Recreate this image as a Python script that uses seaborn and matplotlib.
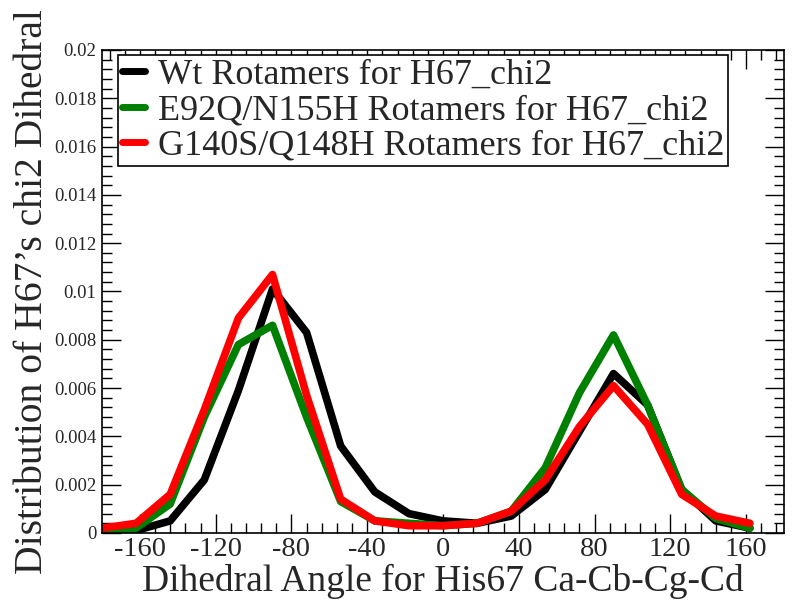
import pandas as pd
import numpy as np
import matplotlib.pyplot as plt
import seaborn as sns
from matplotlib.ticker import MultipleLocator, FuncFormatter

angles = [-180, -162, -144, -126, -108, -90, -72, -54, -36, -18,
          0, 18, 36, 54, 72, 90, 108, 126, 144, 162]

wt = [0.0000, 0.0001, 0.0005, 0.0022, 0.0059, 0.0101, 0.0083, 0.0036, 0.0017, 0.0008,
      0.0005, 0.0004, 0.0007, 0.0018, 0.0042, 0.0066, 0.0053, 0.0018, 0.0005, 0.0002]
e92q = [0.0000, 0.0002, 0.0012, 0.0048, 0.0078, 0.0086, 0.0048, 0.0013, 0.0005, 0.0004,
        0.0003, 0.0004, 0.0009, 0.0027, 0.0058, 0.0082, 0.0053, 0.0018, 0.0006, 0.0002]
g140s = [0.0002, 0.0004, 0.0016, 0.0051, 0.0089, 0.0107, 0.0057, 0.0014, 0.0005, 0.0003,
         0.0003, 0.0004, 0.0009, 0.0022, 0.0044, 0.0061, 0.0045, 0.0016, 0.0007, 0.0004]

labels = ["Wt Rotamers for H67_chi2",
          "E92Q/N155H Rotamers for H67_chi2",
          "G140S/Q148H Rotamers for H67_chi2"]
colors = ["black", "#008000", "#ff0000"]

df = pd.concat([
    pd.DataFrame({"angle": angles, "dist": vals, "set": lab})
    for vals, lab in zip([wt, e92q, g140s], labels)
])

sns.set_style("ticks")
plt.rcParams['font.family'] = ['Liberation Serif', 'DejaVu Serif']
plt.rcParams['axes.unicode_minus'] = False

fig = plt.figure(figsize=(8, 6.14), dpi=100)
ax = fig.add_axes([0.1275, 0.132, 0.8525, 0.7866])

sns.lineplot(data=df, x="angle", y="dist", hue="set", palette=colors,
             linewidth=5.5, ax=ax, legend=True)

ax.set_xlim(-180, 180)
ax.set_ylim(0, 0.02)
ax.xaxis.set_minor_locator(MultipleLocator(8))
ax.yaxis.set_major_locator(MultipleLocator(0.002))
ax.yaxis.set_minor_locator(MultipleLocator(0.0004))
ax.set_xticks(np.arange(-160, 161, 40))
ax.yaxis.set_major_formatter(FuncFormatter(lambda v, p: "%g" % round(v, 4)))

ax.tick_params(which="both", direction="in", top=True, right=True, color="black")
ax.tick_params(which="major", length=14, width=1)
ax.tick_params(which="minor", length=7, width=1)
ax.tick_params(axis="x", labelsize=20.5, pad=3)
ax.tick_params(axis="y", labelsize=13.5, pad=4)
for s in ax.spines.values():
    s.set_color("black")
    s.set_linewidth(1.2)

ax.set_xlabel("Dihedral Angle for His67 Ca-Cb-Cg-Cd", fontsize=27, labelpad=1)
ax.set_ylabel("Distribution of H67\u2019s chi2 Dihedral", fontsize=28.5, labelpad=2)

leg = ax.legend(loc="upper left", bbox_to_anchor=(0.024, 0.99), fontsize=26,
                handlelength=0.65, handletextpad=0.35, borderpad=0.1,
                labelspacing=0.06, fancybox=False, framealpha=1, borderaxespad=0)
leg.get_frame().set_edgecolor("black")
leg.get_frame().set_linewidth(1.2)
for h in leg.get_lines():
    h.set_linewidth(5)

fig.savefig("out.png", dpi=100)
